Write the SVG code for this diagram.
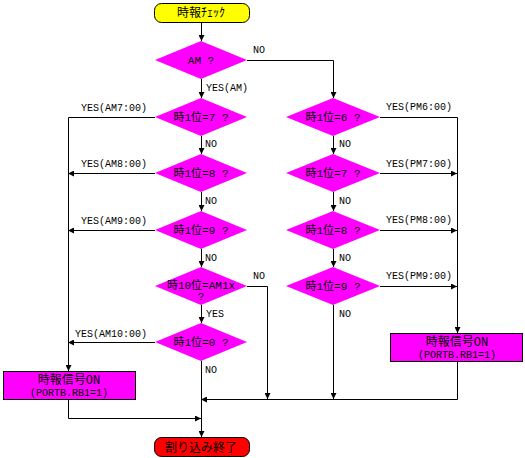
<svg xmlns="http://www.w3.org/2000/svg" width="525" height="458" viewBox="0 0 525 458">
<style>
text{font-family:"Liberation Mono","Noto Sans CJK JP",monospace;font-size:10px;fill:#000}
.c{text-anchor:middle}
.big{font-size:12px}
.d{font-size:11px}
.dia{fill:#ff00ff;stroke:none}
.box{fill:#ff00ff;stroke:#000;stroke-width:1}
.term1{fill:#ffff00;stroke:#000;stroke-width:1}
.term2{fill:#ff0000;stroke:#000;stroke-width:1}
.ln{fill:none;stroke:#000;stroke-width:1}
</style>
<defs>
<marker id="a" viewBox="0 0 6 6" markerWidth="6" markerHeight="6" markerUnits="userSpaceOnUse" refX="6" refY="3" orient="auto">
<path d="M0,0 L6,3 L0,6 z" fill="#000"/>
</marker>
</defs>
<rect width="525" height="458" fill="#fff"/>
<g id="connectors">
<path class="ln" d="M201.5,22 V41" marker-end="url(#a)"/>
<path class="ln" d="M201.5,79 V98" marker-end="url(#a)"/>
<path class="ln" d="M247,60.5 H333.5 V98" marker-end="url(#a)"/>
<path class="ln" d="M201.5,136 V154" marker-end="url(#a)"/>
<path class="ln" d="M201.5,192 V211" marker-end="url(#a)"/>
<path class="ln" d="M201.5,249 V267" marker-end="url(#a)"/>
<path class="ln" d="M201.5,305 V323" marker-end="url(#a)"/>
<path class="ln" d="M201.5,361 V437" marker-end="url(#a)"/>
<path class="ln" d="M155,117.5 H68.5 V371" marker-end="url(#a)"/>
<path class="ln" d="M155,173.5 H68" marker-end="url(#a)"/>
<path class="ln" d="M155,230.5 H68" marker-end="url(#a)"/>
<path class="ln" d="M155,342.5 H68" marker-end="url(#a)"/>
<path class="ln" d="M68.5,399 V418.5 H201" marker-end="url(#a)"/>
<path class="ln" d="M247,286.5 H267.5 V399" marker-end="url(#a)"/>
<path class="ln" d="M333.5,136 V154" marker-end="url(#a)"/>
<path class="ln" d="M333.5,192 V211" marker-end="url(#a)"/>
<path class="ln" d="M333.5,249 V267" marker-end="url(#a)"/>
<path class="ln" d="M333.5,305 V399" marker-end="url(#a)"/>
<path class="ln" d="M380,117.5 H457.5 V333" marker-end="url(#a)"/>
<path class="ln" d="M380,173.5 H457" marker-end="url(#a)"/>
<path class="ln" d="M380,230.5 H457" marker-end="url(#a)"/>
<path class="ln" d="M380,286.5 H457" marker-end="url(#a)"/>
<path class="ln" d="M457.5,361 V399.5 H201" marker-end="url(#a)"/>
<text x="253" y="53">NO</text>
<text x="206" y="91">YES(AM)</text>
<text x="81" y="111">YES(AM7:00)</text>
<text x="81" y="167">YES(AM8:00)</text>
<text x="81" y="224">YES(AM9:00)</text>
<text x="75" y="337">YES(AM10:00)</text>
<text x="205" y="147">NO</text>
<text x="205" y="204">NO</text>
<text x="205" y="261">NO</text>
<text x="206" y="317">YES</text>
<text x="205" y="373">NO</text>
<text x="253" y="279">NO</text>
<text x="386" y="110">YES(PM6:00)</text>
<text x="386" y="167">YES(PM7:00)</text>
<text x="386" y="223">YES(PM8:00)</text>
<text x="386" y="279">YES(PM9:00)</text>
<text x="339" y="147">NO</text>
<text x="339" y="204">NO</text>
<text x="339" y="261">NO</text>
<text x="339" y="317">NO</text>
</g>
<g id="start">
<rect class="term1" x="154.5" y="3.5" width="95" height="19" rx="7"/>
<text class="c big" x="201" y="17">時報ﾁｪｯｸ</text>
</g>
<g id="am">
<polygon class="dia" points="201,41 247,60 201,79 155,60"/>
<text class="c d" x="201" y="64">AM ?</text>
</g>
<g id="am7">
<polygon class="dia" points="201,98 247,117 201,136 155,117"/>
<text class="c d" x="201" y="121">時1位=7 ?</text>
</g>
<g id="am8">
<polygon class="dia" points="201,154 247,173 201,192 155,173"/>
<text class="c d" x="201" y="177">時1位=8 ?</text>
</g>
<g id="am9">
<polygon class="dia" points="201,211 247,230 201,249 155,230"/>
<text class="c d" x="201" y="234">時1位=9 ?</text>
</g>
<g id="am10x">
<polygon class="dia" points="201,267 247,286 201,305 155,286"/>
<text class="c d" x="201" y="289">時10位=AM1x</text>
<text class="c d" x="201" y="300">?</text>
</g>
<g id="am10">
<polygon class="dia" points="201,323 247,342 201,361 155,342"/>
<text class="c d" x="201" y="346">時1位=0 ?</text>
</g>
<g id="pm6">
<polygon class="dia" points="333,98 380,117 333,136 286,117"/>
<text class="c d" x="333" y="121">時1位=6 ?</text>
</g>
<g id="pm7">
<polygon class="dia" points="333,154 380,173 333,192 286,173"/>
<text class="c d" x="333" y="177">時1位=7 ?</text>
</g>
<g id="pm8">
<polygon class="dia" points="333,211 380,230 333,249 286,230"/>
<text class="c d" x="333" y="234">時1位=8 ?</text>
</g>
<g id="pm9">
<polygon class="dia" points="333,267 380,286 333,305 286,286"/>
<text class="c d" x="333" y="290">時1位=9 ?</text>
</g>
<g id="signal-left">
<rect class="box" x="3.5" y="371.5" width="132" height="28"/>
<text class="c big" x="69" y="384">時報信号ON</text>
<text class="c" x="69" y="396">(PORTB.RB1=1)</text>
</g>
<g id="signal-right">
<rect class="box" x="390.5" y="333.5" width="132" height="28"/>
<text class="c big" x="457" y="346">時報信号ON</text>
<text class="c" x="457" y="358">(PORTB.RB1=1)</text>
</g>
<g id="end">
<rect class="term2" x="154.5" y="437.5" width="95" height="19" rx="7"/>
<text class="c big" x="201" y="452">割り込み終了</text>
</g>
</svg>
